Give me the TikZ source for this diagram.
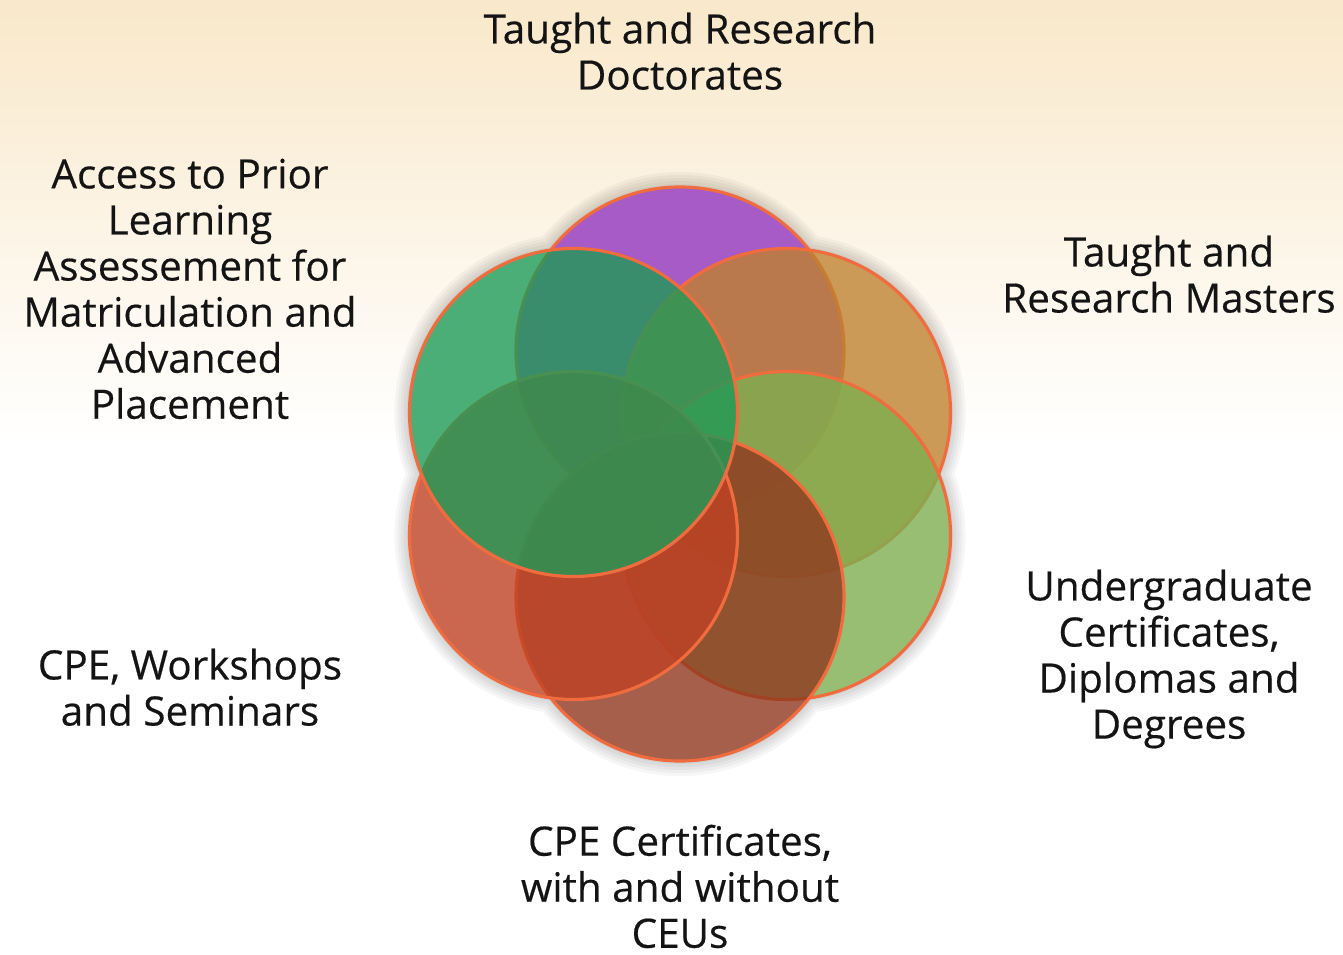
\documentclass[tikz,border=0pt]{standalone}
\usepackage{fontspec}
\setmainfont{Open Sans}
\newfontfamily\lblfont{Open Sans}[FakeBold=0.4]
\usepackage{tikz}
\usetikzlibrary{positioning}
\usepackage{xcolor}

\definecolor{bgtop}{RGB}{249,232,202}
\definecolor{ringline}{RGB}{240,108,62}
\definecolor{cdoc}{RGB}{144,51,186}
\definecolor{cmas}{RGB}{191,129,46}
\definecolor{cund}{RGB}{126,174,79}
\definecolor{cceu}{RGB}{143,56,31}
\definecolor{cwork}{RGB}{191,66,36}
\definecolor{cacc}{RGB}{31,154,86}

\begin{document}
\begin{tikzpicture}[x=0.01cm,y=-0.01cm,
    lbl/.style={align=center,anchor=north,inner sep=0pt,text=black!92,
      font=\lblfont\fontsize{11.5}{13.1}\selectfont},
    ring/.style={draw=ringline,line width=0.9pt,fill opacity=0.8}]
    % Define parameters
    \def\cx{680}
    \def\cy{474}
    \def\dist{123}
    \def\rad{164}

% Background
    \fill[white] (0,0) rectangle (1343,955);
    \shade[top color=bgtop,bottom color=white] (0,0) rectangle (1343,440);
    \useasboundingbox (0,0) rectangle (1343,955);

% Soft shadow round the flower
    \foreach \k in {1,...,5}{
      \fill[black,opacity=0.035]
        \foreach \ang in {90,30,-30,-90,-150,150}{ (\cx,\cy) ++(-\ang:\dist) circle (\rad+3*\k) };
    }
    \fill[white] \foreach \ang in {90,30,-30,-90,-150,150}{ (\cx,\cy) ++(-\ang:\dist) circle (\rad) };

% Circles, top first and then clockwise
    \foreach \ang/\col in {90/cdoc,30/cmas,-30/cund,-90/cceu,-150/cwork,150/cacc}{
      \path[ring,fill=\col] (\cx,\cy) ++(-\ang:\dist) circle (\rad);
    }

% Labels
    \node[lbl] (doc) at (680,12) {Taught and Research\\Doctorates};
    \node[lbl] (mas) at (1169,235) {Taught and\\Research Masters};
    \node[lbl] (und) at (1169,569) {Undergraduate\\Certificates,\\Diplomas and\\Degrees};
    \node[lbl] (ceu) at (680,824) {CPE Certificates,\\with and without\\CEUs};
    \node[lbl] (work) at (190,648) {CPE, Workshops\\and Seminars};
    \node[lbl] (acc) at (190,158) {Access to Prior\\Learning\\Assessement for\\Matriculation and\\Advanced\\Placement};

\end{tikzpicture}
\end{document}
